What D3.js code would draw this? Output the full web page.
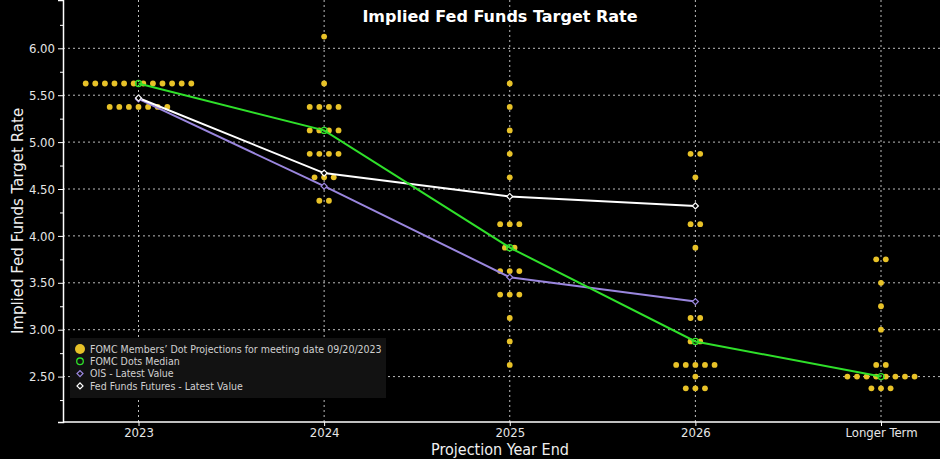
<!DOCTYPE html>
<html>
<head>
<meta charset="utf-8">
<script src="https://cdn.jsdelivr.net/npm/d3@7"></script>
<style>
  html, body { margin: 0; padding: 0; background: #000; }
  svg { display: block; }
</style>
</head>
<body>
<div id="chart"></div>
<script>
// categories on the x axis
var categories = ["2023", "2024", "2025", "2026", "Longer Term"];

// FOMC dot plot: [rate, number of members] per category
var dots2023 = [[5.625, 12], [5.375, 7]];
var dots2024 = [[6.125, 1], [5.625, 1], [5.375, 4], [5.125, 4], [4.875, 4], [4.625, 3], [4.375, 2]];
var dots2025 = [[5.625, 1], [5.375, 1], [5.125, 1], [4.875, 1], [4.625, 1], [4.125, 3], [3.875, 2],
                [3.625, 3], [3.375, 3], [3.125, 1], [2.875, 1], [2.625, 1]];
var dots2026 = [[4.875, 2], [4.625, 1], [4.125, 2], [3.875, 1], [3.125, 2], [2.875, 2], [2.625, 5],
                [2.5, 1], [2.375, 3]];
var dotsLonger = [[3.75, 2], [3.5, 1], [3.25, 1], [3.0, 1], [2.625, 2], [2.5, 8], [2.375, 3]];
var dotPlot = [dots2023, dots2024, dots2025, dots2026, dotsLonger];

// lines
var medianValues = [5.625, 5.125, 3.875, 2.875, 2.5];
var oisValues = [5.46, 4.53, 3.56, 3.30];
var futuresValues = [5.47, 4.67, 4.42, 4.32];

var yTicks = [2.5, 3.0, 3.5, 4.0, 4.5, 5.0, 5.5, 6.0];
var yMinorTicks = [2.25, 2.75, 3.25, 3.75, 4.25, 4.75, 5.25, 5.75, 6.25];

var legendLabels = [
  "FOMC Members\u2019 Dot Projections for meeting date 09/20/2023",
  "FOMC Dots Median",
  "OIS - Latest Value",
  "Fed Funds Futures - Latest Value"
];

var W = 940, H = 459;
var plotLeft = 63, plotRight = 940, plotTop = 0, plotBottom = 422;
var narrow = "'Liberation Sans Narrow', 'DejaVu Sans Condensed', 'Roboto Condensed', sans-serif";

var yellow = "#e8c228", green = "#2fe02a", purple = "#9a86de";

var svg = d3.select("#chart").append("svg")
    .attr("width", W)
    .attr("height", H)
    .style("font-family", narrow);

svg.append("rect").attr("width", W).attr("height", H).attr("fill", "#000");

var x = d3.scalePoint()
    .domain(categories)
    .range([138.5, 881]);

var y = d3.scaleLinear()
    .domain([2.016, 6.515])
    .range([plotBottom, plotTop]);

// grid
var grid = svg.append("g")
    .attr("stroke", "#bdbdbd")
    .attr("stroke-width", 1)
    .attr("stroke-dasharray", "2,3");

grid.selectAll("line.h").data(yTicks).enter().append("line")
    .attr("x1", plotLeft).attr("x2", plotRight)
    .attr("y1", function(d) { return y(d); })
    .attr("y2", function(d) { return y(d); });

grid.selectAll("line.v").data(categories).enter().append("line")
    .attr("x1", function(d) { return x(d); })
    .attr("x2", function(d) { return x(d); })
    .attr("y1", plotTop).attr("y2", plotBottom);

// axes
svg.append("g")
    .attr("transform", "translate(" + plotLeft + ",0)")
    .call(d3.axisLeft(y).tickValues(yTicks).tickFormat(d3.format(".2f")).tickSize(5).tickPadding(3));

svg.append("g")
    .attr("transform", "translate(" + plotLeft + ",0)")
    .call(d3.axisLeft(y).tickValues(yMinorTicks).tickFormat("").tickSize(3))
    .select(".domain").remove();

var xAxis = svg.append("g")
    .attr("transform", "translate(0," + plotBottom + ")")
    .call(d3.axisBottom(x).tickSize(4).tickPadding(2));

xAxis.select(".domain").attr("d", "M" + plotLeft + ",0H" + plotRight);

svg.selectAll(".domain").attr("stroke", "#fff").attr("stroke-width", 1.5);
svg.selectAll(".tick line").attr("stroke", "#fff");
svg.selectAll(".tick text")
    .attr("fill", "#e6e6e6")
    .style("font-family", narrow)
    .style("font-size", "13px");

// dot projections
var dotRows = [];
dotPlot.forEach(function(rows, i) {
  rows.forEach(function(r) {
    for (var j = 0; j < r[1]; j++) {
      dotRows.push({cat: categories[i], rate: r[0], off: j - (r[1] - 1) / 2});
    }
  });
});

svg.append("g").selectAll("circle").data(dotRows).enter().append("circle")
    .attr("cx", function(d) { return x(d.cat) + d.off * 9.6; })
    .attr("cy", function(d) { return y(d.rate); })
    .attr("r", 2.9)
    .attr("fill", yellow);

// lines
function drawLine(values, color, width) {
  var line = d3.line()
      .x(function(d, i) { return x(categories[i]); })
      .y(function(d) { return y(d); });
  svg.append("path")
      .datum(values)
      .attr("fill", "none")
      .attr("stroke", color)
      .attr("stroke-width", width)
      .attr("d", line);
}

drawLine(oisValues, purple, 2);
drawLine(futuresValues, "#fff", 2);
drawLine(medianValues, green, 2);

// markers (square turned 45 degrees)
var diamond = d3.symbol().type(d3.symbolSquare).size(18);

function addDiamonds(values, color) {
  svg.append("g").selectAll("path").data(values).enter().append("path")
      .attr("transform", function(d, i) {
        return "translate(" + x(categories[i]) + "," + y(d) + ") rotate(45)";
      })
      .attr("d", diamond)
      .attr("fill", "#000")
      .attr("stroke", color)
      .attr("stroke-width", 1.2);
}
addDiamonds(oisValues, purple);
addDiamonds(futuresValues, "#fff");

svg.append("g").selectAll("circle").data(medianValues).enter().append("circle")
    .attr("cx", function(d, i) { return x(categories[i]); })
    .attr("cy", function(d) { return y(d); })
    .attr("r", 3)
    .attr("fill", "none")
    .attr("stroke", green)
    .attr("stroke-width", 1.3);

// legend
var lg = svg.append("g").attr("transform", "translate(70,338)");
lg.append("rect")
    .attr("width", 316).attr("height", 60)
    .attr("fill", "#121212");

lg.selectAll("text").data(legendLabels).enter().append("text")
    .attr("x", 20)
    .attr("y", function(d, i) { return 11 + i * 12.3; })
    .attr("dy", "0.35em")
    .attr("fill", "#d0d0d0")
    .style("font-size", "10.5px")
    .text(function(d) { return d; });

lg.append("circle").attr("cx", 10).attr("cy", 11).attr("r", 5).attr("fill", yellow);
lg.append("circle").attr("cx", 10).attr("cy", 23.3).attr("r", 3.3)
    .attr("fill", "none").attr("stroke", green).attr("stroke-width", 1.3);
lg.append("path").attr("transform", "translate(10,35.6) rotate(45)").attr("d", diamond)
    .attr("fill", "none").attr("stroke", purple).attr("stroke-width", 1.2);
lg.append("path").attr("transform", "translate(10,47.9) rotate(45)").attr("d", diamond)
    .attr("fill", "none").attr("stroke", "#fff").attr("stroke-width", 1.2);

// titles
svg.append("text")
    .attr("x", 500).attr("y", 22)
    .attr("text-anchor", "middle")
    .attr("fill", "#fff")
    .style("font-family", "'DejaVu Sans', Verdana, sans-serif")
    .style("font-weight", "bold")
    .style("font-size", "16px")
    .text("Implied Fed Funds Target Rate");

svg.append("text")
    .attr("transform", "translate(23,221) rotate(-90)")
    .attr("text-anchor", "middle")
    .attr("fill", "#f0f0f0")
    .style("font-family", "'DejaVu Sans', sans-serif")
    .style("font-size", "15px")
    .text("Implied Fed Funds Target Rate");

svg.append("text")
    .attr("x", 500).attr("y", 455)
    .attr("text-anchor", "middle")
    .attr("fill", "#f0f0f0")
    .style("font-size", "16px")
    .text("Projection Year End");
</script>
</body>
</html>
